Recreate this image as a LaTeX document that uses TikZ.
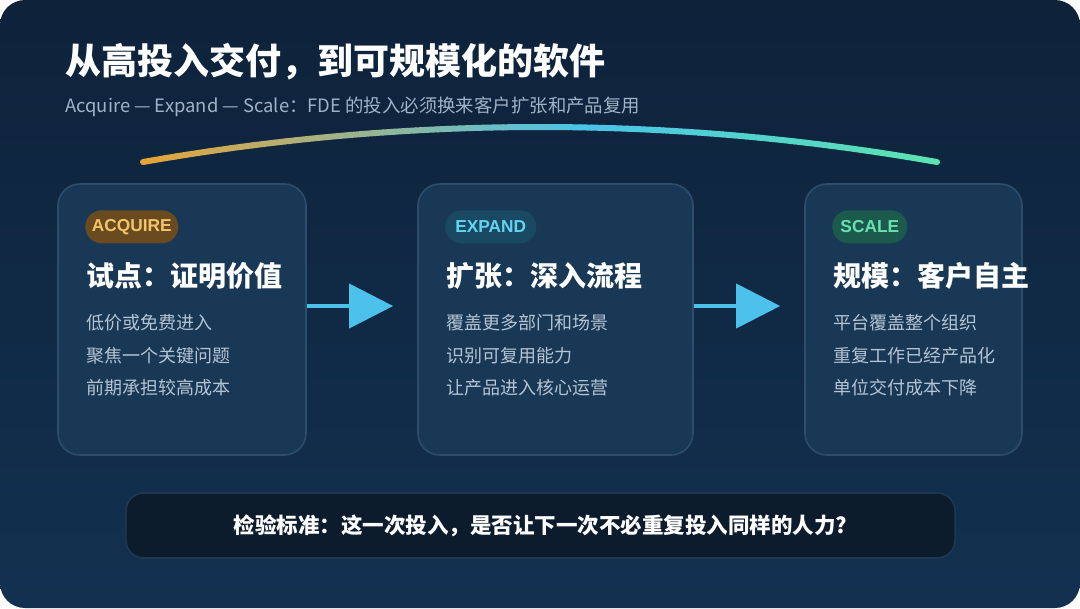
\documentclass[tikz,border=0pt]{standalone}
\usepackage{fontspec}
\setmainfont{Noto Sans CJK SC}
\newfontfamily\badgefont{Liberation Sans}
\usetikzlibrary{arrows.meta}
\definecolor{fdebgtop}{RGB}{14,34,58}
\definecolor{fdebgbot}{RGB}{18,49,80}
\definecolor{fdecard}{RGB}{25,56,86}
\definecolor{fdeline}{RGB}{46,77,107}
\definecolor{fdesub}{RGB}{160,178,198}
\definecolor{fdetext}{RGB}{180,196,212}
\definecolor{fdearrow}{RGB}{76,193,235}
\definecolor{fdebox}{RGB}{13,28,44}
\definecolor{fdeboxline}{RGB}{31,56,82}
\definecolor{arcorange}{RGB}{229,165,58}
\definecolor{arcblue}{RGB}{75,195,234}
\definecolor{arcgreen}{RGB}{93,227,174}
\definecolor{acqfill}{RGB}{106,74,31}
\definecolor{acqtext}{RGB}{244,196,106}
\definecolor{expfill}{RGB}{26,74,99}
\definecolor{exptext}{RGB}{98,212,238}
\definecolor{sclfill}{RGB}{27,90,76}
\definecolor{scltext}{RGB}{107,224,174}

\begin{document}
\begin{tikzpicture}[x=0.025cm, y=-0.025cm,
    card/.style={draw=fdeline, line width=0.04cm, fill=fdecard, rounded corners=0.55cm,
      minimum height=6.775cm, inner sep=0pt},
    badge/.style={rounded corners=0.41cm, minimum height=0.825cm, inner sep=0pt,
      anchor=north west, font=\badgefont\bfseries\fontsize{12.3}{14}\selectfont},
    headline/.style={anchor=west, inner sep=0pt, text=white,
      font=\bfseries\fontsize{19.9}{24}\selectfont},
    point/.style={anchor=west, inner sep=0pt, text=fdetext,
      font=\fontsize{12.8}{16}\selectfont},
    flow/.style={draw=fdearrow, line width=0.1cm,
      -{Triangle[length=1.1cm,width=1.1cm]}, shorten >=0.6cm},
    arcseg/.style={line width=0.15cm, line cap=round}]
  \useasboundingbox (0,0) rectangle (1080,608);
  \fill[white] (0,0) rectangle (1080,608);
  \shade[top color=fdebgtop, bottom color=fdebgbot, rounded corners=0.625cm]
    (0,0) rectangle (1080,608);

  \node[anchor=west, inner sep=0pt, text=white, font=\bfseries\fontsize{25.6}{30}\selectfont]
    (title) at (65,62) {从高投入交付，到可规模化的软件};
  \node[anchor=west, inner sep=0pt, text=fdesub, font=\fontsize{13.1}{16}\selectfont]
    (subtitle) at (65,107) {Acquire — Expand — Scale：FDE 的投入必须换来客户扩张和产品复用};

  \foreach \i in {0,...,39}{
    \pgfmathsetmacro\ta{0.55*\i/40}
    \pgfmathsetmacro\tb{0.55*(\i+1)/40}
    \pgfmathtruncatemacro\p{100*\i/40}
    \draw[arcseg, arcblue!\p!arcorange]
      ({143+794*\ta},{162-140*\ta*(1-\ta)}) -- ({143+794*\tb},{162-140*\tb*(1-\tb)});
  }
  \foreach \i in {0,...,29}{
    \pgfmathsetmacro\ta{0.55+0.45*\i/30}
    \pgfmathsetmacro\tb{0.55+0.45*(\i+1)/30}
    \pgfmathtruncatemacro\p{100*\i/30}
    \draw[arcseg, arcgreen!\p!arcblue]
      ({143+794*\ta},{162-140*\ta*(1-\ta)}) -- ({143+794*\tb},{162-140*\tb*(1-\tb)});
  }

  \node[card, minimum width=6.2cm] (acq) at (182,319.5) {};
  \node[card, minimum width=6.875cm] (exp) at (555.5,319.5) {};
  \node[card, minimum width=5.425cm] (scl) at (913.5,319.5) {};

  \node[badge, fill=acqfill, text=acqtext, minimum width=2.325cm] (acqtag) at (85,210) {ACQUIRE};
  \node[headline] (acqhead) at (86,276) {试点：证明价值};
  \node[point] (acq1) at (86,323) {低价或免费进入};
  \node[point] (acq2) at (86,356) {聚焦一个关键问题};
  \node[point] (acq3) at (86,388) {前期承担较高成本};

  \node[badge, fill=expfill, text=exptext, minimum width=2.275cm] (exptag) at (445,210) {EXPAND};
  \node[headline] (exphead) at (446,276) {扩张：深入流程};
  \node[point] (exp1) at (446,323) {覆盖更多部门和场景};
  \node[point] (exp2) at (446,356) {识别可复用能力};
  \node[point] (exp3) at (446,388) {让产品进入核心运营};

  \node[badge, fill=sclfill, text=scltext, minimum width=1.875cm] (scltag) at (832,210) {SCALE};
  \node[headline] (sclhead) at (833,276) {规模：客户自主};
  \node[point] (scl1) at (833,323) {平台覆盖整个组织};
  \node[point] (scl2) at (833,356) {重复工作已经产品化};
  \node[point] (scl3) at (833,388) {单位交付成本下降};

  \draw[flow] (acq.east |- 0,306) -- (exp.west |- 0,306);
  \draw[flow] (exp.east |- 0,306) -- (scl.west |- 0,306);

  \node[draw=fdeboxline, line width=0.04cm, fill=fdebox, rounded corners=0.45cm,
    minimum width=20.725cm, minimum height=1.625cm, text=white,
    font=\bfseries\fontsize{15.3}{18}\selectfont]
    (check) at (540.5,525.5) {检验标准：这一次投入，是否让下一次不必重复投入同样的人力?};
\end{tikzpicture}
\end{document}
